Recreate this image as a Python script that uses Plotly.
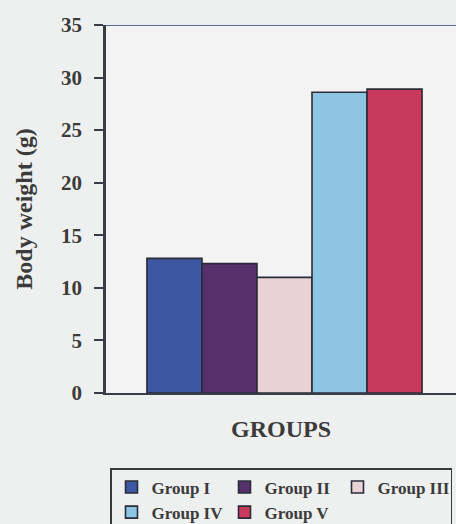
import plotly.graph_objects as go

# Body weight (g) per treatment group
groups = ["Group I", "Group II", "Group III", "Group IV", "Group V"]
body_weight = [12.8, 12.3, 11.0, 28.6, 28.9]
bar_colors = ["#3e57a2", "#55306b", "#e9d1d5", "#8ec5e5", "#c8395c"]

y_ticks = [0, 5, 10, 15, 20, 25, 30, 35]

SERIF = "Liberation Serif"
INK = "#3a3d46"

fig = go.Figure()
for name, val, col in zip(groups, body_weight, bar_colors):
    fig.add_trace(go.Bar(
        x=[0], y=[val], name=name,
        marker=dict(color=col, line=dict(color="#2a2c38", width=1.6)),
    ))

fig.update_layout(
    width=456, height=524,
    margin=dict(l=106, r=0, t=25, b=131),
    paper_bgcolor="#eef0ef",
    plot_bgcolor="#f2f3f2",
    barmode="group",
    bargap=0.214,
    bargroupgap=0,
    showlegend=True,
    font=dict(family=SERIF, color="#3b3b3b"),
    legend=dict(
        orientation="h",
        xref="container", yref="container",
        x=110 / 456, xanchor="left",
        y=1 - 468 / 524, yanchor="top",
        entrywidth=68, entrywidthmode="pixels",
        itemwidth=30,
        font=dict(family=SERIF, size=17, color="#3b3b3b", weight="bold"),
        bgcolor="#eef0ef",
        bordercolor="#3a3a3a", borderwidth=1.5,
        traceorder="normal",
    ),
    xaxis=dict(
        range=[-0.51, 0.49],
        showticklabels=False, ticks="",
        showgrid=False, zeroline=False,
        showline=True, linecolor=INK, linewidth=2,
        title=dict(text="GROUPS", standoff=26,
                   font=dict(family=SERIF, size=24, color="#3b3b3b", weight="bold")),
        fixedrange=True,
    ),
    yaxis=dict(
        range=[0, 35],
        tickvals=y_ticks,
        ticks="outside", ticklen=9, tickwidth=2, tickcolor=INK,
        ticklabelstandoff=8,
        tickfont=dict(family=SERIF, size=21, color="#3b3b3b", weight="bold"),
        showgrid=False, zeroline=False,
        showline=True, linecolor=INK, linewidth=2.5,
        title=dict(text="Body weight (g)", standoff=22,
                   font=dict(family=SERIF, size=24, color="#3b3b3b", weight="bold")),
        fixedrange=True,
    ),
)

# frame line along the top of the plotting area
fig.add_shape(type="line", xref="paper", yref="y", x0=0, x1=1, y0=35, y1=35,
              line=dict(color="#5d6a93", width=2))

fig.write_html("out.html")
